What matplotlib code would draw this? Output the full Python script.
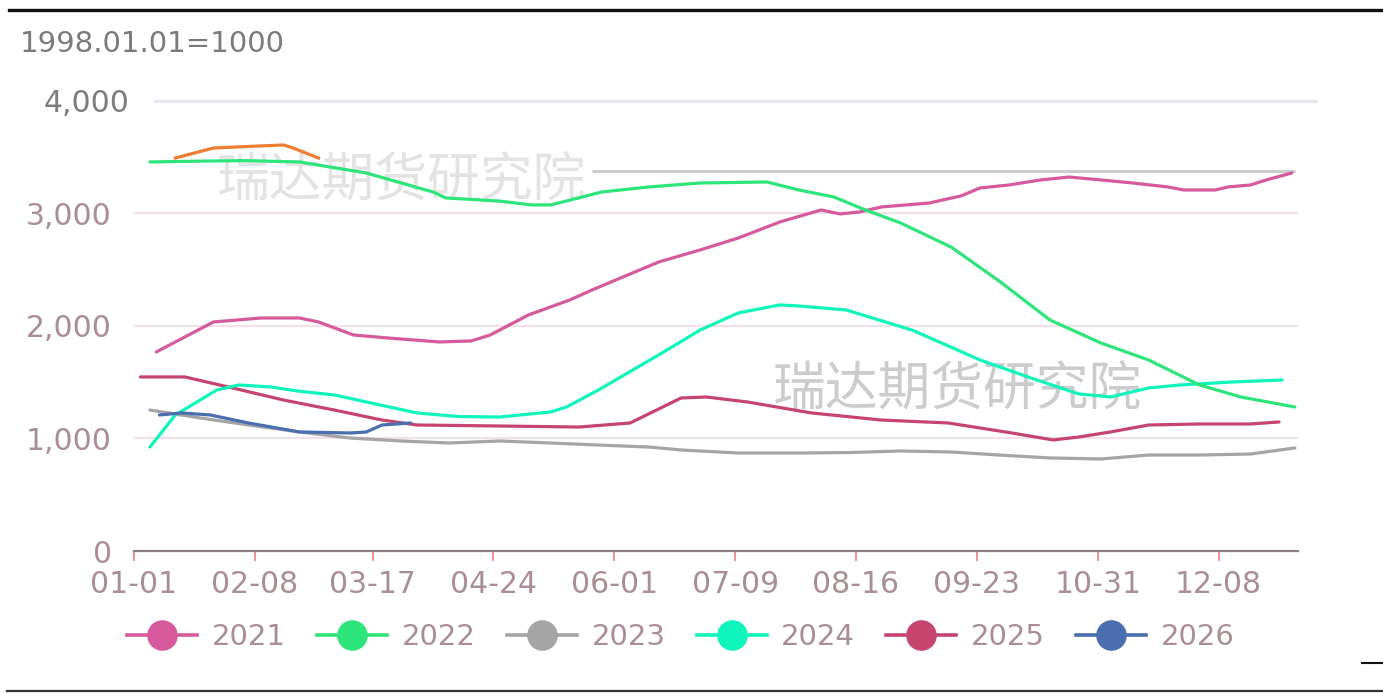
import matplotlib.pyplot as plt
from matplotlib.lines import Line2D
from matplotlib.transforms import ScaledTranslation

plt.rcParams['font.family'] = ['DejaVu Sans', 'Noto Sans CJK SC']

# x = days since 01-01, y = index (1998.01.01=1000)
days_2021 = [7, 25, 40, 52, 58, 69, 80, 96, 106, 112, 124, 137, 144, 153, 165, 178, 190, 203, 216, 222, 228,
             235, 250, 260, 266, 275, 285, 294, 304, 314, 325, 330, 340, 344, 351, 356, 364]
vals_2021 = [1769, 2036, 2071, 2071, 2036, 1920, 1893, 1858, 1867, 1920, 2098, 2231, 2320, 2427, 2569, 2676,
             2782, 2924, 3031, 2996, 3013, 3058, 3093, 3156, 3227, 3253, 3298, 3324, 3298, 3271, 3236, 3209,
             3209, 3236, 3253, 3298, 3360]

days_2022 = [5, 20, 35, 52, 73, 94, 98, 115, 125, 131, 141, 147, 162, 178, 199, 209, 220, 230, 241, 257,
             272, 288, 304, 319, 335, 348, 365]
vals_2022 = [3458, 3465, 3470, 3458, 3360, 3191, 3138, 3110, 3076, 3076, 3147, 3191, 3236, 3271, 3280, 3209,
             3147, 3031, 2916, 2700, 2400, 2053, 1849, 1698, 1476, 1369, 1280]

days_2023 = [5, 21, 36, 52, 68, 84, 99, 115, 131, 146, 162, 172, 190, 209, 225, 241, 257, 272, 288, 304,
             319, 335, 351, 365]
vals_2023 = [1253, 1182, 1120, 1058, 1004, 978, 960, 978, 960, 942, 924, 898, 871, 871, 875, 889, 880, 853,
             827, 818, 853, 853, 862, 916]

days_2024 = [5, 13, 26, 33, 43, 52, 63, 77, 89, 102, 115, 131, 136, 146, 166, 178, 190, 203, 209, 224, 245,
             266, 282, 297, 307, 319, 329, 345, 361]
vals_2024 = [924, 1209, 1431, 1476, 1458, 1420, 1387, 1300, 1227, 1195, 1191, 1236, 1280, 1431, 1760, 1964,
             2116, 2187, 2178, 2142, 1960, 1698, 1538, 1396, 1369, 1449, 1476, 1502, 1520]

days_2025 = [2, 16, 31, 47, 63, 78, 89, 115, 140, 156, 172, 180, 193, 213, 235, 256, 276, 289, 297, 307,
             319, 335, 351, 360]
vals_2025 = [1547, 1547, 1449, 1342, 1253, 1164, 1120, 1111, 1102, 1138, 1360, 1369, 1324, 1227, 1164, 1138,
             1049, 987, 1013, 1058, 1120, 1129, 1129, 1147]

days_2026 = [8, 15, 24, 36, 52, 68, 73, 78, 87]
vals_2026 = [1209, 1227, 1209, 1138, 1058, 1049, 1058, 1120, 1138]

# orange stray segment and flat grey line drawn in the source image
days_orange = [13, 25, 47, 50, 58]
vals_orange = [3493, 3582, 3609, 3582, 3493]
grey_level = 3378
grey_from, grey_to = 144, 365

years = ['2021', '2022', '2023', '2024', '2025', '2026']
colors = ['#d65a9c', '#2de57a', '#a5a5a5', '#0ff5bb', '#c6456f', '#4a6eae']
series = [(days_2021, vals_2021), (days_2022, vals_2022), (days_2023, vals_2023),
          (days_2024, vals_2024), (days_2025, vals_2025), (days_2026, vals_2026)]

tick_days = [0, 38, 75, 113, 151, 189, 227, 265, 303, 341]
tick_labels = ['01-01', '02-08', '03-17', '04-24', '06-01', '07-09', '08-16', '09-23', '10-31', '12-08']

fig = plt.figure(figsize=(13.83, 6.93), dpi=100)
ax = fig.add_axes([0.0969, 0.2049, 0.8417, 0.6494])

lab_col = '#a98f94'

for y in [1000, 2000, 3000]:
    ax.axhline(y, color='#f3e1e7', lw=1.6, zorder=0)
ax.hlines(4000, 6, 372, color='#e4e7f2', lw=2.2, clip_on=False, zorder=0)

ax.hlines(grey_level, grey_from, grey_to, color='#cccccc', lw=2.2, zorder=1)

wm = ['Noto Sans CJK SC', 'DejaVu Sans']
ax.text(259, 1431, '瑞达期货研究院', fontsize=38, color='#cccccc', ha='center', va='center', zorder=1, family=wm)
ax.text(84, 3290, '瑞达期货研究院', fontsize=38, color='#dcdcdc', ha='center', va='center', zorder=1,
        alpha=0.8, family=wm)

order = [2, 0, 4, 3, 1, 5]
for i in order:
    d, v = series[i]
    ax.plot(d, v, color=colors[i], lw=2.3, zorder=3, solid_capstyle='round')
ax.plot(days_orange, vals_orange, color='#ef7d32', lw=2.3, zorder=4)

ax.set_xlim(0, 366)
ax.set_ylim(0, 4000)
ax.set_xticks(tick_days)
ax.set_xticklabels(tick_labels)
ax.set_yticks([0, 1000, 2000, 3000, 4000])
ax.set_yticklabels(['0', '1,000', '2,000', '3,000', '4,000'])

for s in ['top', 'right', 'left']:
    ax.spines[s].set_visible(False)
ax.spines['bottom'].set_color('#8a7e80')
ax.spines['bottom'].set_linewidth(1.6)

ax.tick_params(axis='x', colors=lab_col, labelsize=21.5, length=7, width=1.4, pad=7)
ax.tick_params(axis='x', which='major', color='#ee8f90')
ax.tick_params(axis='y', colors=lab_col, labelsize=21.5, length=0, pad=16)
for lab in ax.get_yticklabels():
    if lab.get_text() == '4,000':
        lab.set_color('#7d7d80')
        lab.set_transform(lab.get_transform() + ScaledTranslation(0.18, 0, fig.dpi_scale_trans))

fig.text(0.0145, 0.9365, '1998.01.01=1000', fontsize=21, color='#7b7b7b', ha='left', va='center')

handles = [Line2D([0], [0], color=c, lw=2.6, marker='o', markersize=21) for c in colors]
ax.legend(handles, years, loc='center', bbox_to_anchor=(0.4924, 0.0808), bbox_transform=fig.transFigure,
          ncol=6, frameon=False, fontsize=21, labelcolor=lab_col, handlelength=2.4,
          handletextpad=0.5, columnspacing=1.07)

fig.add_artist(Line2D([0.0065, 1.0], [0.986, 0.986], color='#111111', lw=2.4))
fig.add_artist(Line2D([0.005, 1.0], [0.0025, 0.0025], color='#333333', lw=1.6))
fig.add_artist(Line2D([0.985, 1.0], [0.0433, 0.0433], color='#111111', lw=1.5))

fig.savefig('out.png', dpi=100)
